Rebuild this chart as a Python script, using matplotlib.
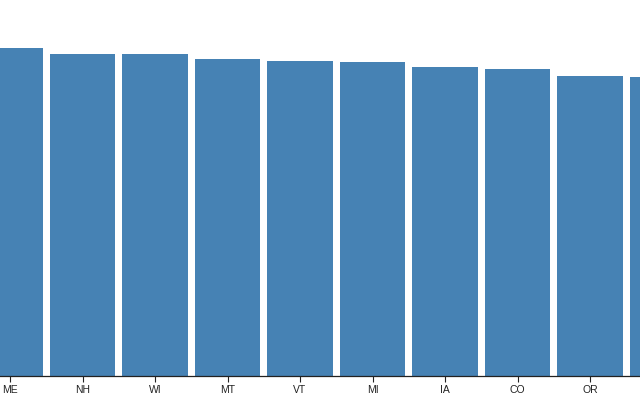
import matplotlib
matplotlib.use("Agg")
import matplotlib.pyplot as plt

# visible part of a panned bar chart (values read as bar heights)
states = ["ME", "NH", "WI", "MT", "VT", "MI", "IA", "CO", "OR", "PA"]
values = [328, 322, 322, 317, 315.5, 314, 309, 307, 300.5, 299]

plt.rcParams["font.family"] = ["Liberation Sans", "DejaVu Sans"]

fig = plt.figure(figsize=(6.4, 4.0), dpi=100)
ax = fig.add_axes([0, 24 / 400, 1, 376 / 400])

x = list(range(len(states)))
ax.bar(x, values, width=0.9, color="#4682b4")

ax.set_xticks(x)
ax.set_xticklabels(states, fontsize=7.5, color="#222222")
# set limits after the ticks, set_xticks would widen them otherwise
ax.set_xlim(-10 / 72.5, 630 / 72.5)
ax.set_ylim(0, 376)
ax.tick_params(axis="x", length=4.3, width=0.8, pad=2, color="#222222")
ax.set_yticks([])
for side in ["top", "left", "right"]:
    ax.spines[side].set_visible(False)
ax.spines["bottom"].set_linewidth(0.9)
ax.spines["bottom"].set_color("#222222")

fig.savefig("out.png", dpi=100)
